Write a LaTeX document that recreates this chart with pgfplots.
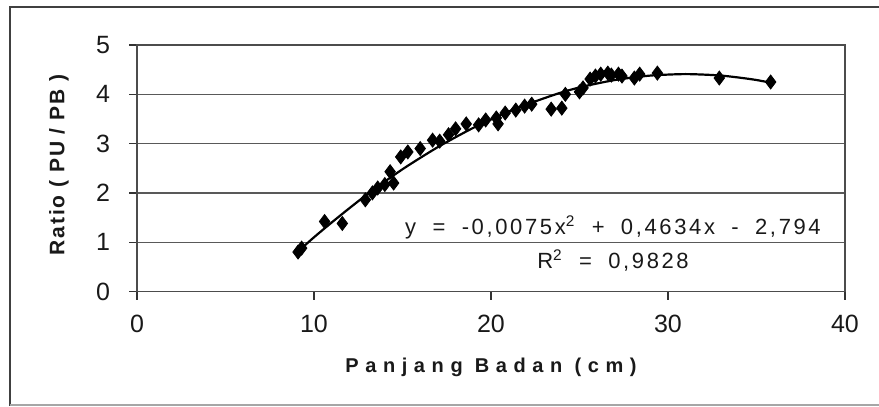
\documentclass[border=0pt]{standalone}
\usepackage{pgfplots}
\pgfplotsset{compat=1.18}
\usepackage{fontspec}
\setmainfont{Liberation Sans}
\newfontfamily\xlabfont[LetterSpace=33]{Liberation Sans Bold}
\newfontfamily\ylabfont[LetterSpace=9]{Liberation Sans Bold}
\newfontfamily\eqfont[LetterSpace=12]{Liberation Sans}
\begin{document}
\begin{tikzpicture}
\useasboundingbox (0,0) rectangle (439.5pt,-203.5pt);
\draw[line width=1.1pt, black!75] (5pt,-203pt) -- (5pt,-3.5pt) -- (445pt,-3.5pt);
\draw[line width=0.8pt, black!35] (5pt,-202.5pt) -- (445pt,-202.5pt);
\begin{axis}[
  at={(68.5pt,-145.75pt)}, anchor=south west,
  scale only axis, width=354pt, height=123.25pt,
  xmin=0, xmax=40, ymin=0, ymax=5,
  xtick={0,10,20,30,40}, ytick={0,1,2,3,4,5},
  ymajorgrids, major grid style={black!65, line width=0.6pt},
  axis line style={black!70, line width=0.7pt},
  tick align=outside, tick style={black!80, line width=0.6pt},
  major tick length=4pt,
  xtick pos=bottom, ytick pos=left,
  ticklabel style={font=\fontsize{12.5}{14}\selectfont, text=black!90},
  yticklabel style={xshift=-6pt},
  xticklabel style={yshift=-4pt},
  /pgf/number format/assume math mode=true,
  clip=false,
]
\addplot[only marks, mark=diamond*, mark size=3.5pt, black] coordinates {
(9.1,0.8) (9.3,0.88) (10.6,1.42) (11.6,1.38) (12.9,1.86) (13.3,2.0)
(13.6,2.1) (14.0,2.17) (14.5,2.2) (14.3,2.43) (14.9,2.73) (15.3,2.83)
(16.0,2.9) (16.7,3.07) (17.1,3.05) (17.6,3.18) (18.0,3.3) (18.6,3.4)
(19.3,3.38) (19.7,3.48) (20.3,3.52) (20.4,3.4) (20.8,3.62) (21.4,3.68)
(21.9,3.76) (22.3,3.8) (23.4,3.7) (24.0,3.72) (24.2,4.0) (25.0,4.05)
(25.2,4.13) (25.6,4.31) (25.9,4.37) (26.2,4.41) (26.6,4.43) (26.8,4.39)
(27.2,4.41) (27.4,4.37) (28.1,4.33) (28.4,4.41) (29.4,4.43) (32.9,4.33)
(35.8,4.25)
};
\addplot[black, line width=1.1pt, smooth] coordinates {
(9,0.78) (10,1.10) (11,1.40) (12,1.69) (13,1.97) (14,2.23)
(15,2.48) (16,2.71) (17,2.93) (18,3.13) (19,3.32) (20,3.49)
(21,3.65) (22,3.79) (23,3.92) (24,4.04) (25,4.14) (26,4.22)
(27,4.29) (28,4.34) (29,4.38) (30,4.40) (31,4.41) (32,4.40)
(33,4.38) (34,4.34) (35,4.29) (36,4.22)
};
\end{axis}
\node[font=\xlabfont\fontsize{10}{12}\selectfont, text=black!90] at (245.5pt,-183.5pt) {Panjang Badan (cm)};
\node[font=\ylabfont\fontsize{10.5}{12}\selectfont, text=black!90, rotate=90] at (29.5pt,-82.5pt) {Ratio ( PU / PB )};
\node[font=\eqfont\fontsize{11}{13}\selectfont, text=black!90] at (306.5pt,-113.5pt) {y\hspace{3.8pt} = \hspace{3.8pt}-0,0075x\textsuperscript{2}\hspace{3.8pt} + \hspace{3.8pt}0,4634x\hspace{3.8pt} - \hspace{3.8pt}2,794};
\node[font=\eqfont\fontsize{11}{13}\selectfont, text=black!90] at (306.5pt,-130.5pt) {R\textsuperscript{2}\hspace{3.8pt} = \hspace{3.8pt}0,9828};
\end{tikzpicture}
\end{document}
